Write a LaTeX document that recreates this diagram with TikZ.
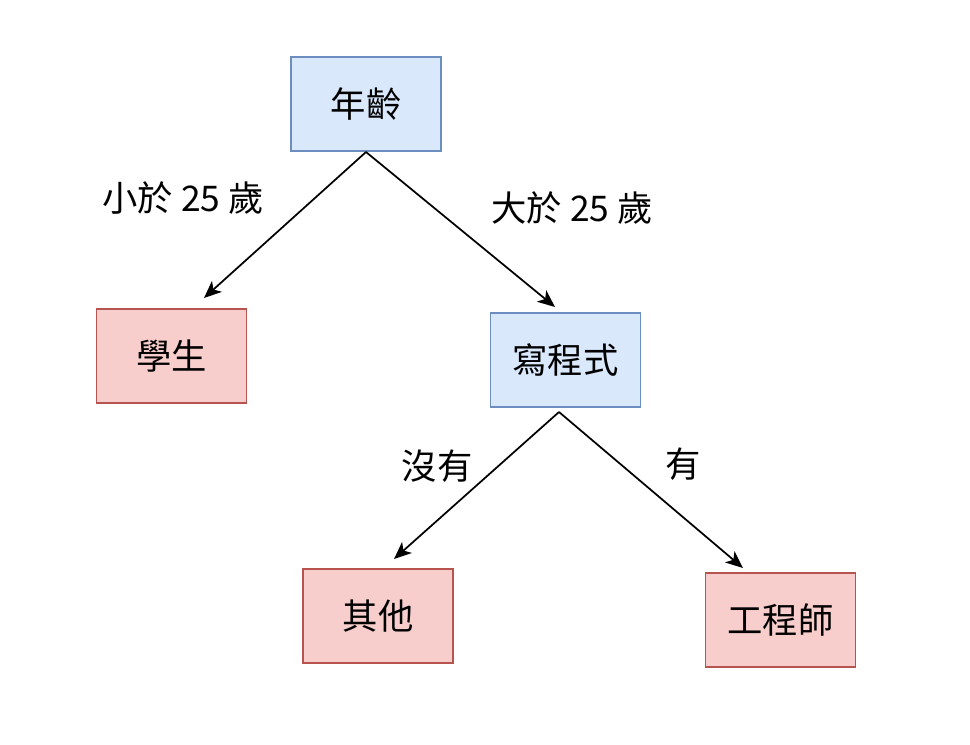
\documentclass[tikz,border=0pt]{standalone}
\usepackage{fontspec}
\setmainfont{Noto Sans CJK TC}
\usetikzlibrary{arrows.meta,positioning}

\definecolor{askfill}{HTML}{DAE8FC}
\definecolor{askline}{HTML}{6C8EBF}
\definecolor{endfill}{HTML}{F8CECC}
\definecolor{endline}{HTML}{B85450}

\begin{document}
\begin{tikzpicture}[
						x=0.75pt,
						y=-0.75pt,
						font=\fontsize{26.5}{30}\selectfont,
						box/.style={minimum width=112.5pt, minimum height=70.5pt, line width=1.3pt, inner sep=0pt},
						ask/.style={box, draw=askline, fill=askfill},
						answer/.style={box, draw=endline, fill=endfill},
						edge/.style={line width=1.3pt, line join=round, -{Stealth[length=13pt, width=11pt, inset=3.5pt]}},
						lbl/.style={inner sep=0pt}
					]
					\useasboundingbox (0,0) rectangle (970,744);
					% questions
					\node[ask] (age) at (366,104) {年齡};
					\node[ask] (code) at (565.5,360) {寫程式};
					% answers
					\node[answer] (student) at (171.5,356) {學生};
					\node[answer] (other) at (378,616) {其他};
					\node[answer] (engineer) at (780.5,620) {工程師};
					% forks and arrow tips
					\coordinate (ageFork) at (366,152);
					\coordinate (codeFork) at (559,412);
					\coordinate (tipStudent) at (204,298);
					\coordinate (tipCode) at (555,307);
					\coordinate (tipOther) at (394,559);
					\coordinate (tipEngineer) at (743,568);
					\draw[edge] (ageFork) -- (tipStudent);
					\draw[edge] (ageFork) -- (tipCode);
					\draw[edge] (codeFork) -- (tipOther);
					\draw[edge] (codeFork) -- (tipEngineer);
					% labels
					\node[lbl] (young) at (183,198) {小於 25 歲};
					\node[lbl] (old) at (572,208) {大於 25 歲};
					\node[lbl] (no) at (437,466) {沒有};
					\node[lbl] (yes) at (683,464) {有};
				\end{tikzpicture}
\end{document}
